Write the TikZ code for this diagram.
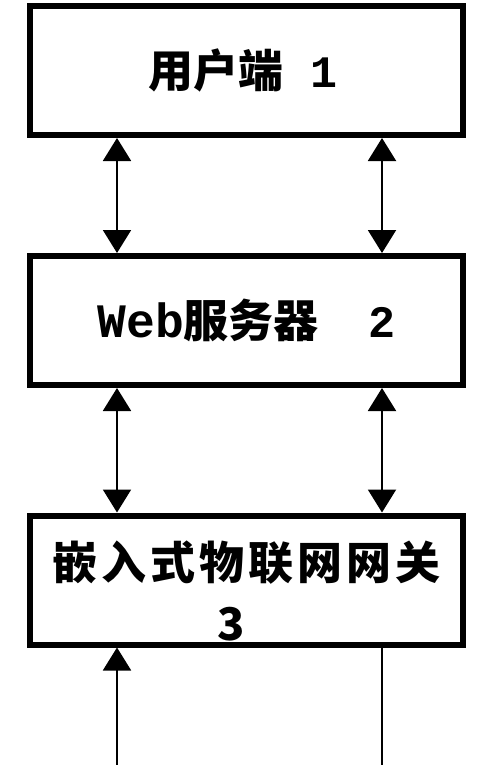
\documentclass[tikz,border=0pt]{standalone}
\usepackage{fontspec}
\newfontfamily\cjk{Noto Sans CJK SC}
\newfontfamily\mono{Liberation Mono}
\usetikzlibrary{arrows.meta,calc}
\newcommand{\gs}{\hspace{4pt}}
\begin{document}
\begin{tikzpicture}[x=1pt,y=-1pt,
  box/.style={draw=black,line width=6pt,minimum width=433pt,minimum height=129pt,inner sep=0pt,align=center,font=\cjk\bfseries\fontsize{45}{62}\selectfont},
  boxtext/.style={inner sep=0pt,align=center,font=\cjk\bfseries\fontsize{45}{62}\selectfont},
  conn/.style={line width=2pt},
  tip/.tip={Triangle[width=28pt,length=23pt]},
  biarrow/.style={conn,{tip}-{tip}},
  uparrow/.style={conn,-{tip}}]
\useasboundingbox (0,0) rectangle (500,765);
\fill[white] (0,0) rectangle (500,765);
\node[box] (b1) at (246.5,70.5) {\hspace*{-8pt}用户端\hspace{0.6em}{\mono 1}};
\node[box] (b2) at (246.5,320.5) {{\mono\fontsize{48}{62}\selectfont Web}服务器\hspace{1.1em}{\mono 2}};
\node[box] (b3) at (246.5,580) {};
\node[boxtext] (b3t) at ([yshift=-11pt]b3.center) {嵌\gs 入\gs 式\gs 物\gs 联\gs 网\gs 网\gs 关\\[-1pt]3\hspace*{30pt}};
\coordinate (xl) at (117,0);
\coordinate (xr) at (382,0);
\coordinate (el) at (117,765);
\coordinate (er) at (382,765);
\draw[biarrow] (b1.south -| xl) -- (b2.north -| xl);
\draw[biarrow] (b1.south -| xr) -- (b2.north -| xr);
\draw[biarrow] (b2.south -| xl) -- (b3.north -| xl);
\draw[biarrow] (b2.south -| xr) -- (b3.north -| xr);
\draw[uparrow] (el) -- (b3.south -| xl);
\draw[conn] (b3.south -| xr) -- (er);
\end{tikzpicture}
\end{document}
